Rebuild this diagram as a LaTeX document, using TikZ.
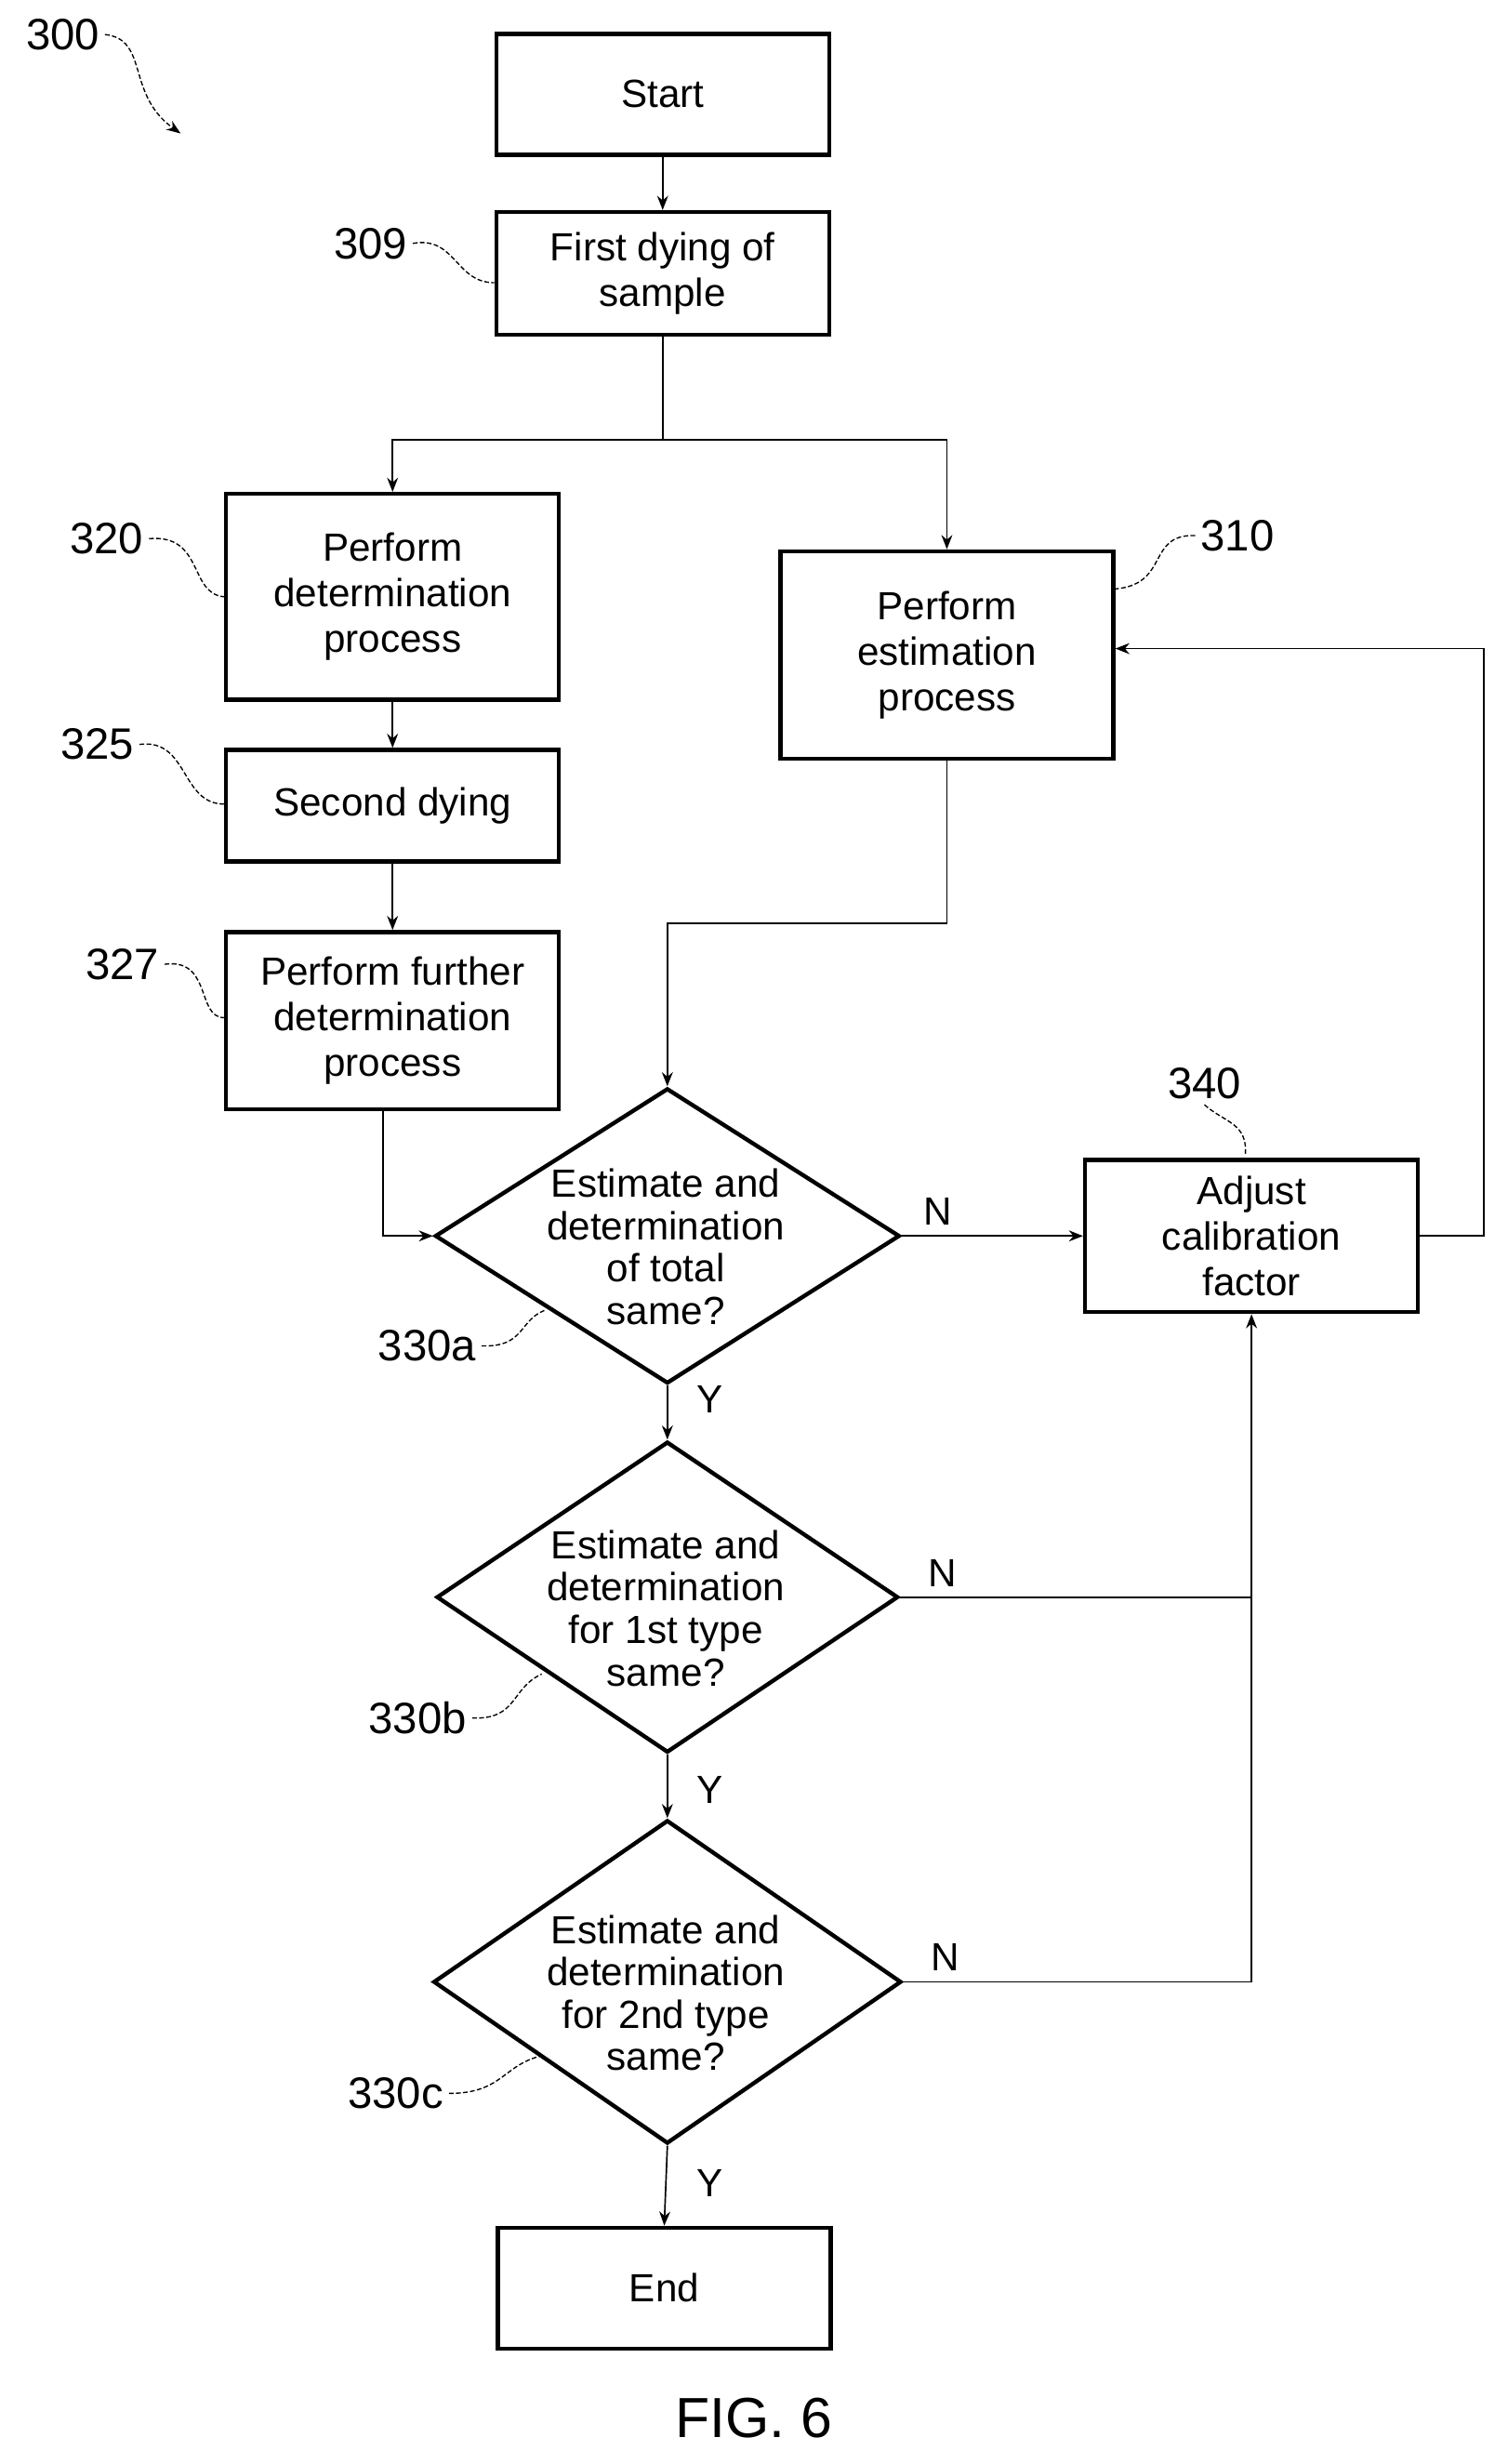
\documentclass[tikz,border=0pt]{standalone}
\usepackage{fontspec}
\setmainfont{Liberation Sans}
\usetikzlibrary{shapes.geometric,arrows.meta}
\begin{document}
\begin{tikzpicture}[x=1pt,y=-1pt,
 box/.style={draw,line width=2.6pt,minimum width=212pt,align=center,font=\fontsize{25}{29}\selectfont,inner sep=0pt},
 dia/.style={draw,line width=2.6pt,diamond,inner sep=0pt},
 dtxt/.style={align=center,font=\fontsize{25}{27}\selectfont},
 ref/.style={font=\fontsize{28}{30}\selectfont},
 lead/.style={line width=0.8pt,dash pattern=on 3pt off 1.5pt},
 con/.style={line width=1pt},
 arr/.style={con,-{Stealth[length=9pt,width=7pt]}},
 yn/.style={font=\fontsize{25}{27}\selectfont}]
\useasboundingbox (0,0) rectangle (960,1569);
\node[box,minimum height=77pt] (start) at (422,60) {Start};
\node[box,minimum height=78pt] (s309) at (422,174) {First dying of\\sample};
\node[box,minimum height=131pt] (s320) at (250,380) {Perform\\determination\\process};
\node[box,minimum height=71pt] (s325) at (250,513) {Second dying};
\node[box,minimum height=113pt] (s327) at (250,650) {Perform further\\determination\\process};
\node[box,minimum height=132pt] (s310) at (603,417) {Perform\\estimation\\process};
\node[box,minimum height=97pt] (s340) at (797,787) {Adjust\\calibration\\factor};
\node[box,minimum height=77pt] (end) at (423,1457) {End};
\node[dia,minimum width=296pt,minimum height=188pt] (a) at (425,787) {};
\node[dia,minimum width=294pt,minimum height=198pt] (b) at (425,1017) {};
\node[dia,minimum width=298pt,minimum height=206pt] (c) at (425,1262) {};
\node[dtxt] (ta) at (424,794) {Estimate and\\determination\\of total\\same?};
\node[dtxt] (tb) at (424,1024) {Estimate and\\determination\\for 1st type\\same?};
\node[dtxt] (tc) at (424,1269) {Estimate and\\determination\\for 2nd type\\same?};
\node[font=\fontsize{36}{38}\selectfont] (fig) at (480,1540) {FIG. 6};
% connectors
\draw[arr] (start) -- (s309);
\coordinate (sp) at (422,280);
\draw[con] (s309) -- (sp);
\draw[arr] (sp) -| (s320.north);
\draw[arr] (sp) -| (s310.north);
\draw[arr] (s320) -- (s325);
\draw[arr] (s325) -- (s327);
\coordinate (k1) at (603,588);
\draw[arr] (s310.south) -- (k1) -| (a.north);
\draw[arr] (s327.south -| 244,0) |- (a.west);
\draw[arr] (a.east) -- node[pos=0.2,above=3pt,yn]{N} (s340.west);
\coordinate (k2) at (945,787);
\draw[arr] (s340.east) -- (k2) |- (s310.east |- 0,413);
\draw[arr] (a.south) -- (b.north);
\draw[arr] (b.south) -- (c.north);
\draw[arr] (c.south) -- (end.north);
\node[yn] at (452,891) {Y};
\node[yn] at (452,1140) {Y};
\node[yn] at (452,1390) {Y};
\coordinate (j) at (797,1017);
\draw[con] (b.east) -- node[pos=0.12,above=3pt,yn]{N} (j);
\draw[arr] (c.east) -- node[pos=0.12,above=3pt,yn]{N} (797,1262) -- (s340.south);
% refs
\node[ref] (r300) at (40,22) {300};
\draw[lead,-{Stealth[length=9pt]}] (r300.east) .. controls (95,25) and (80,60) .. (115,85);
\node[ref] (r309) at (236,155) {309};
\draw[lead] (r309.east) .. controls (290,150) and (290,180) .. (s309.west |- 0,180);
\node[ref] (r320) at (68,343) {320};
\draw[lead] (r320.east) .. controls (130,340) and (120,378) .. (s320.west |- 0,380);
\node[ref] (r325) at (62,474) {325};
\draw[lead] (r325.east) .. controls (120,470) and (115,512) .. (s325.west |- 0,512);
\node[ref] (r327) at (78,614) {327};
\draw[lead] (r327.east) .. controls (135,610) and (125,648) .. (s327.west |- 0,648);
\node[ref] (r310) at (788,341) {310};
\draw[lead] (r310.west) .. controls (730,340) and (745,372) .. (s310.east |- 0,375);
\node[ref] (r340) at (767,690) {340};
\draw[lead] (r340.south) .. controls (780,715) and (795,715) .. (793,736);
\node[ref] (r330a) at (272,857) {330a};
\draw[lead] (r330a.east) .. controls (335,858) and (330,840) .. (348,834);
\node[ref] (r330b) at (266,1094) {330b};
\draw[lead] (r330b.east) .. controls (330,1095) and (325,1075) .. (345,1066);
\node[ref] (r330c) at (252,1333) {330c};
\draw[lead] (r330c.east) .. controls (320,1333) and (320,1315) .. (345,1309);
\end{tikzpicture}
\end{document}
